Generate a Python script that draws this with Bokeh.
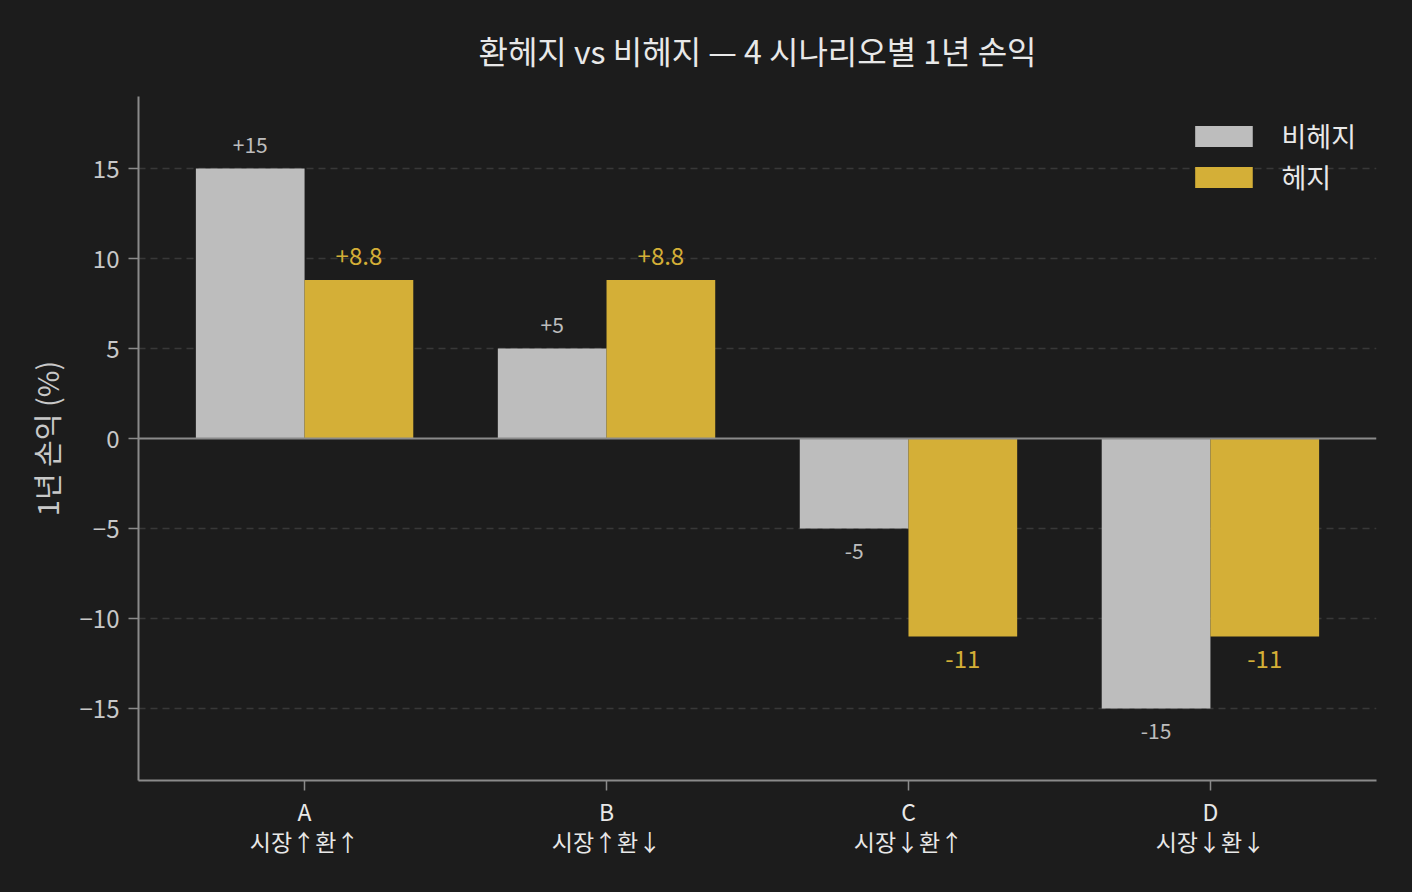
from bokeh.plotting import figure
from bokeh.models import ColumnDataSource, Span, FixedTicker, Range1d, Legend, LegendItem
from bokeh.transform import dodge
from bokeh.embed import file_html
from bokeh.resources import INLINE
from bokeh.core.properties import value

# ---- data ----
scenarios = ["A", "B", "C", "D"]
scenario_desc = ["시장↑환↑", "시장↑환↓", "시장↓환↑", "시장↓환↓"]
unhedged = [15, 5, -5, -15]
hedged = [8.8, 8.8, -11, -11]
y_ticks = [-15, -10, -5, 0, 5, 10, 15]

FONT = "Noto Sans CJK KR"
BG = "#1c1c1c"
GRAY = "#bdbdbd"
GOLD = "#d4af37"
AXIS = "#8a8a8a"
TEXT = "#e8e8e8"


def fmt(v):
    s = f"{v:+.1f}"
    if s.endswith(".0"):
        s = s[:-2]
    return s


idx = list(range(len(scenarios)))
src = ColumnDataSource(dict(
    x=idx,
    unhedged=unhedged,
    hedged=hedged,
    ulab=[fmt(v) for v in unhedged],
    hlab=[fmt(v) for v in hedged],
    uoff=[-24 if v >= 0 else 22 for v in unhedged],
    hoff=[-24 if v >= 0 else 22 for v in hedged],
))

p = figure(width=1412, height=892, output_backend="svg", toolbar_location=None,
           x_range=Range1d(-0.55, 3.55), y_range=Range1d(-19, 19),
           min_border_left=138, min_border_right=36, min_border_top=96, min_border_bottom=112,
           background_fill_color=None, border_fill_color=None)
p.outline_line_color = None
p.styles = {"background-color": BG, "border": "none", "outline": "none"}

p.title.text = "환헤지 vs 비헤지 — 4 시나리오별 1년 손익"
p.title.align = "center"
p.title.text_font = FONT
p.title.text_font_size = "32px"
p.title.text_font_style = "normal"
p.title.text_color = TEXT
p.title.standoff = 47

bw = 0.36
r1 = p.vbar(x=dodge("x", -bw / 2), top="unhedged", bottom=0, width=bw, source=src,
            fill_color=GRAY, line_color=None)
r2 = p.vbar(x=dodge("x", bw / 2), top="hedged", bottom=0, width=bw, source=src,
            fill_color=GOLD, line_color=None)

p.text(x=dodge("x", -bw / 2), y="unhedged", text="ulab", y_offset="uoff", source=src,
       text_align="center", text_baseline="middle", text_color=GRAY,
       text_font=value(FONT), text_font_size="21px")
p.text(x=dodge("x", bw / 2), y="hedged", text="hlab", y_offset="hoff", source=src,
       text_align="center", text_baseline="middle", text_color=GOLD,
       text_font=value(FONT), text_font_size="24px")

p.add_layout(Span(location=0, dimension="width", line_color=AXIS, line_width=2))

# grid
p.xgrid.grid_line_color = None
p.ygrid.ticker = FixedTicker(ticks=[t for t in y_ticks if t != 0])
p.ygrid.grid_line_color = "#383838"
p.ygrid.grid_line_width = 1.5
p.ygrid.grid_line_dash = "7 5"

# axes
for ax in (p.xaxis[0], p.yaxis[0]):
    ax.axis_line_color = AXIS
    ax.axis_line_width = 2
    ax.major_tick_line_color = AXIS
    ax.major_tick_line_width = 1.5
    ax.major_tick_out = 10
    ax.major_tick_in = 0
    ax.minor_tick_line_color = None
    ax.major_label_text_font = FONT

p.yaxis.ticker = FixedTicker(ticks=y_ticks)
p.yaxis.major_label_overrides = {t: (str(t).replace("-", "−")) for t in y_ticks}
p.yaxis.major_label_text_color = "#c8c8c8"
p.yaxis.major_label_text_font_size = "24px"
p.yaxis.major_label_standoff = 9
p.yaxis.axis_label = "1년 손익 (%)"
p.yaxis.axis_label_text_font = FONT
p.yaxis.axis_label_text_font_size = "29px"
p.yaxis.axis_label_text_font_style = "normal"
p.yaxis.axis_label_text_color = "#c8c8c8"
p.yaxis.axis_label_standoff = 10

p.xaxis.ticker = FixedTicker(ticks=idx)
p.xaxis.major_label_overrides = {i: f"{scenarios[i]}\n{scenario_desc[i]}" for i in idx}
p.xaxis.major_label_text_color = TEXT
p.xaxis.major_label_text_font_size = "23px"
p.xaxis.major_label_text_line_height = 0.9
p.xaxis.major_label_standoff = 3

legend = Legend(items=[LegendItem(label="비헤지", renderers=[r1]),
                       LegendItem(label="헤지", renderers=[r2])],
                location="top_right")
legend.background_fill_alpha = 0
legend.border_line_alpha = 0
legend.label_text_color = TEXT
legend.label_text_font = FONT
legend.label_text_font_size = "27px"
legend.glyph_width = 72
legend.glyph_height = 26
legend.label_standoff = 22
legend.spacing = 2
legend.margin = 10
legend.padding = 10
p.add_layout(legend, "center")

open("out.html", "w").write(file_html(p, INLINE))
